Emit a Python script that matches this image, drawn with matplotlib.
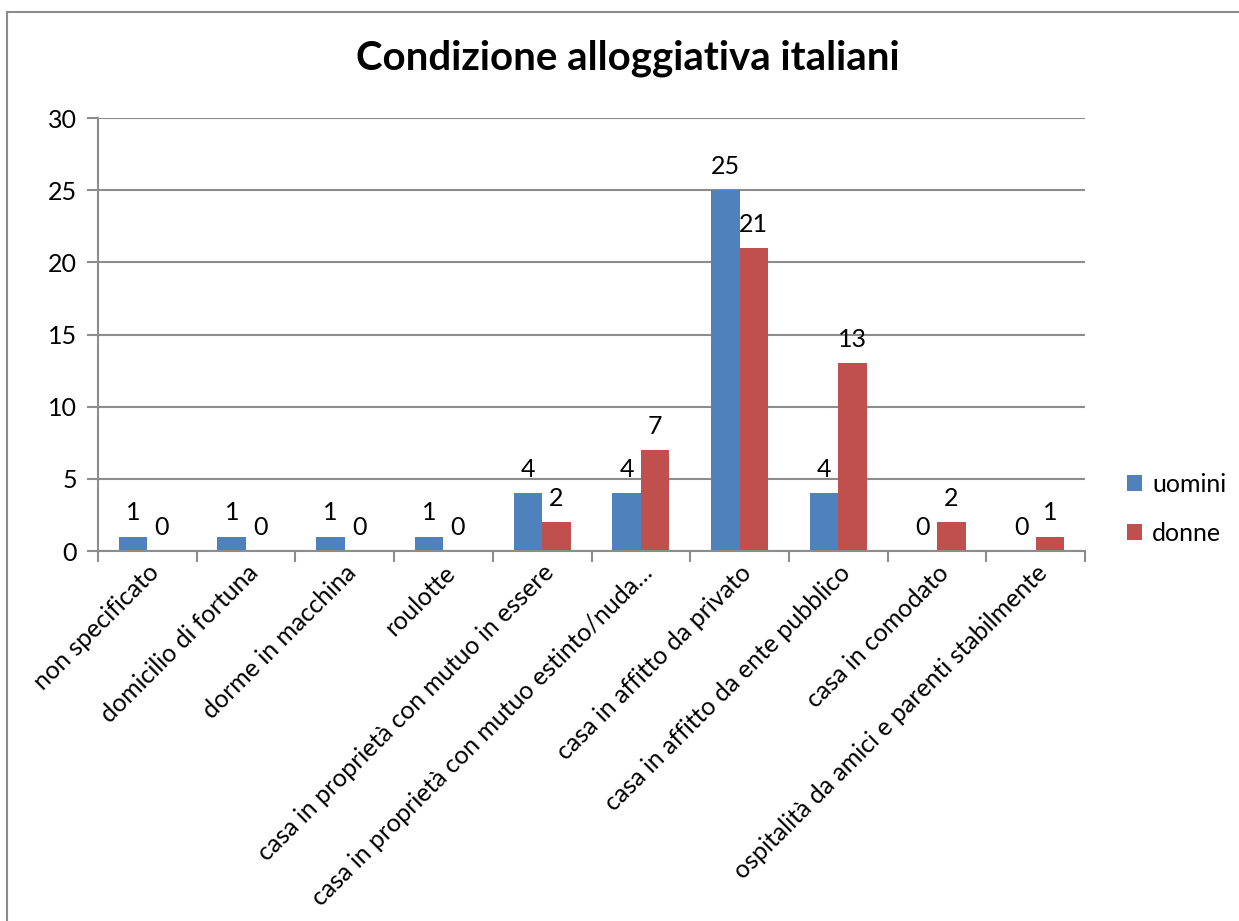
import numpy as np
import matplotlib.pyplot as plt
from matplotlib.patches import Rectangle

plt.rcParams['font.family'] = ['Lato', 'DejaVu Sans']

categories = [
    "non specificato",
    "domicilio di fortuna",
    "dorme in macchina",
    "roulotte",
    "casa in proprietà con mutuo in essere",
    "casa in proprietà con mutuo estinto/nuda…",
    "casa in affitto da privato",
    "casa in affitto da ente pubblico",
    "casa in comodato",
    "ospitalità da amici e parenti stabilmente",
]
uomini = [1, 1, 1, 1, 4, 4, 25, 4, 0, 0]
donne = [0, 0, 0, 0, 2, 7, 21, 13, 2, 1]

BLUE = '#4F81BD'
RED = '#C0504D'
GRID = '#8C8C8C'
FS = 18

fig = plt.figure(figsize=(12.39, 9.21), dpi=100)

# outer chart border (runs off the right and bottom edges)
fig.patches.append(Rectangle((7 / 1239, -0.1), 1.1, 1 - 12 / 921 + 0.1,
                             transform=fig.transFigure, fill=False,
                             edgecolor=GRID, linewidth=1.5))

ax = fig.add_axes([98 / 1239, 1 - 551 / 921, (1085 - 98) / 1239, (551 - 118) / 921])

x = np.arange(len(categories))
w = 0.29
b1 = ax.bar(x - w / 2, uomini, w, color=BLUE, label='uomini')
b2 = ax.bar(x + w / 2, donne, w, color=RED, label='donne')

for bars, vals in ((b1, uomini), (b2, donne)):
    for bar, v in zip(bars, vals):
        ax.annotate(str(v), (bar.get_x() + bar.get_width() / 2, v),
                    xytext=(0, 17), textcoords='offset points',
                    ha='center', va='center', fontsize=FS)

ax.set_xlim(-0.5, len(categories) - 0.5)
ax.set_ylim(0, 30)
ax.set_yticks(range(0, 31, 5))
ax.yaxis.grid(True, color=GRID, linewidth=1.5)
ax.set_axisbelow(True)

for s in ('top', 'right'):
    ax.spines[s].set_visible(False)
for s in ('left', 'bottom'):
    ax.spines[s].set_color(GRID)
    ax.spines[s].set_linewidth(1.5)

ax.tick_params(axis='y', length=8, width=1.5, color=GRID, labelsize=FS, pad=7)
ax.set_xticks(np.arange(len(categories) + 1) - 0.5)
ax.set_xticklabels([])
ax.tick_params(axis='x', which='major', length=8, width=1.5, color=GRID)
ax.set_xticks(x, minor=True)
ax.set_xticklabels(categories, minor=True, rotation=45, ha='right', va='top',
                   rotation_mode='anchor', fontsize=FS)
ax.tick_params(axis='x', which='minor', length=0, pad=7)

fig.text(628 / 1239, 1 - 58 / 921, 'Condizione alloggiativa italiani',
         ha='center', va='center', fontsize=29, fontweight='bold')

ax.legend(loc='center left', bbox_to_anchor=(1.02, 0.097), frameon=False,
          fontsize=FS, handlelength=0.6, handleheight=0.6, labelspacing=1.05,
          handletextpad=0.4)

fig.savefig('out.png', dpi=100, facecolor='white')
